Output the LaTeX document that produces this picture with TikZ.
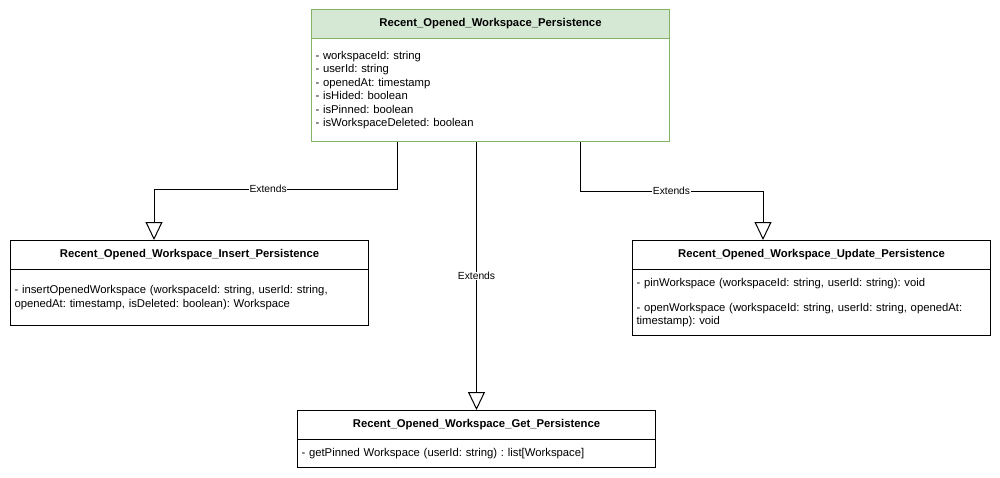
\documentclass[tikz,border=0pt]{standalone}
\usepackage{fontspec}
\setmainfont{Liberation Sans}
\usetikzlibrary{arrows.meta,calc}
\frenchspacing
\definecolor{hgreen}{HTML}{D5E8D4}
\definecolor{sgreen}{HTML}{82B366}
\tikzset{
  base/.style={rectangle, anchor=north west, minimum width=358pt, inner xsep=4pt, inner ysep=0pt, line width=1pt, font=\fontsize{11.3}{13.4}\selectfont\frenchspacing},
  hdr/.style={base, draw=black, fill=white, minimum height=29pt, font=\fontsize{11.3}{13.4}\selectfont\bfseries\frenchspacing},
  bdy/.style={base, draw=black, fill=white, text width=350pt, align=left},
  ghdr/.style={hdr, draw=sgreen, fill=hgreen},
  gbdy/.style={bdy, draw=sgreen},
  ext/.style={line width=1pt, draw=black, -{Triangle[open, width=17pt, length=18pt, fill=white]}},
  lbl/.style={fill=white, inner sep=0.5pt, font=\fontsize{10.3}{12}\selectfont}
}
\begin{document}
\begin{tikzpicture}[x=1pt, y=-1pt]
\useasboundingbox (0,0) rectangle (1000,477);
\fill[white] (0,0) rectangle (1000,477);

% top class
\node[ghdr] (topH) at (311,9) {Recent\_Opened\_Workspace\_Persistence};
\node[gbdy, minimum height=103pt] (topB) at (311,38) {- workspaceId: string\\- userId: string\\- openedAt: timestamp\\- isHided: boolean\\- isPinned: boolean\\- isWorkspaceDeleted: boolean};

% insert class
\node[hdr] (leftH) at (10,240) {Recent\_Opened\_Workspace\_Insert\_Persistence};
\node[bdy, minimum height=56pt] (leftB) at (10,269) {- insertOpenedWorkspace (workspaceId: string, userId: string,\\openedAt: timestamp, isDeleted: boolean): Workspace};

% update class
\node[hdr] (rightH) at (632,240) {Recent\_Opened\_Workspace\_Update\_Persistence};
\node[bdy, minimum height=66pt] (rightB) at (632,269) {- pinWorkspace (workspaceId: string, userId: string): void\\[12pt]- openWorkspace (workspaceId: string, userId: string, openedAt:\\timestamp): void};

% get class
\node[hdr] (botH) at (297,410) {Recent\_Opened\_Workspace\_Get\_Persistence};
\node[bdy, minimum height=28pt] (botB) at (297,439) {- getPinned Workspace (userId: string) : list[Workspace]};

% connectors
\draw[ext] ([xshift=86pt]topB.south west) -- ++(0,47) -| ([xshift=144pt]leftH.north west) node[lbl, pos=0.265] (l1) {Extends};
\draw[ext] ([xshift=269pt]topB.south west) -- ++(0,49) -| ([xshift=131pt]rightH.north west) node[lbl, pos=0.25] (l2) {Extends};
\draw[ext] (topB.south west -| botH.north) -- (botH.north) node[lbl, pos=0.5] (l3) {Extends};
\end{tikzpicture}
\end{document}
